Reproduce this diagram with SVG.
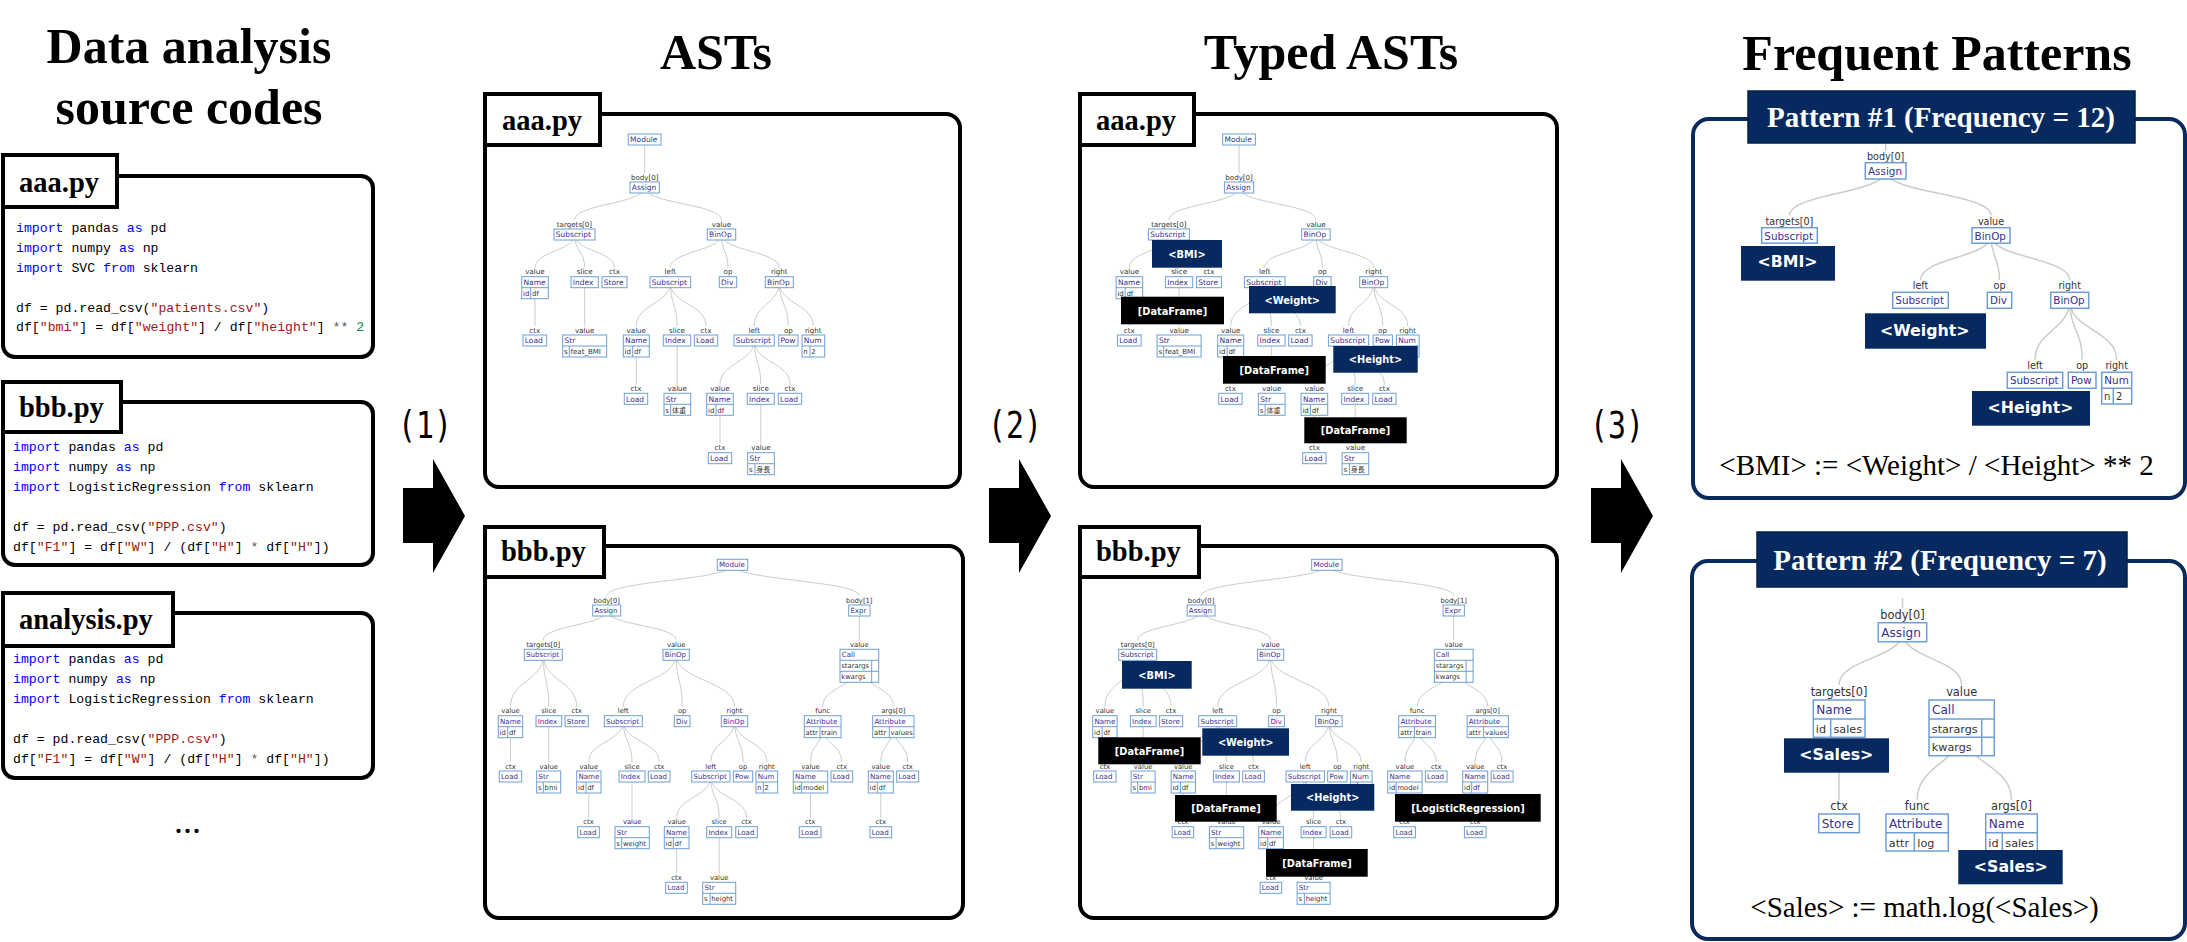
<svg xmlns="http://www.w3.org/2000/svg" width="2187" height="942" viewBox="0 0 2187 942">
<style>
.ttl{font-family:"Liberation Serif",serif;font-weight:bold;font-size:50px;text-anchor:middle;fill:#000}
.bx{fill:#fff;stroke:#000;stroke-width:4}
.tab{fill:#fff;stroke:#000;stroke-width:4}
.tabt{font-family:"Liberation Serif",serif;font-weight:bold;font-size:28.5px;fill:#000}
.code{font-family:"Liberation Mono",monospace;font-size:13.2px;fill:#000;white-space:pre}
.k{fill:#0000ff}.s{fill:#a31515}.nm{fill:#098658}.op{fill:#555}
.e{fill:none;stroke:#cccccc;stroke-width:1}
.ep{fill:none;stroke:#cccccc;stroke-width:1.5}
.n{fill:#fff;stroke:#6e9ed5;stroke-width:1}
.nl{fill:none;stroke:#6e9ed5;stroke-width:1}
.p1 .n,.p1 .nl,.p2 .n,.p2 .nl{stroke-width:1.5}
.t{font-family:"DejaVu Sans",Verdana,sans-serif;fill:#3b2f8e}
.r{font-family:"DejaVu Sans","Noto Sans CJK JP",sans-serif;fill:#333}
.l{font-family:"DejaVu Sans",sans-serif;fill:#333;text-anchor:middle}
.sa .t{font-size:7.5px}.sa .r{font-size:7px}.sa .l{font-size:7.1px}
.sb .t{font-size:7.1px}.sb .r,.sb .l{font-size:6.8px}
.p1 .t{font-size:10.4px}.p1 .r{font-size:10px}.p1 .l{font-size:9.6px}
.p2 .t{font-size:12.1px}.p2 .r{font-size:11.2px}.p2 .l{font-size:11.4px}
.nv{fill:#062a5f}.bk{fill:#000}
.tg{font-family:"DejaVu Sans",sans-serif;font-weight:bold;font-size:9.8px;fill:#fff;text-anchor:middle}
.tgp{font-family:"DejaVu Sans",sans-serif;font-weight:bold;font-size:15.8px;fill:#fff;text-anchor:middle}
.pb{fill:#fff;stroke:#0a2a5e;stroke-width:4}
.ph{fill:#062a5f;stroke:#04204a;stroke-width:1.5}
.pht{font-family:"Liberation Serif",serif;font-weight:bold;font-size:29px;fill:#fff;text-anchor:middle}
.pf{font-family:"Liberation Serif",serif;font-size:29px;fill:#000;text-anchor:middle}
.step{font-family:"DejaVu Sans Mono","Liberation Mono",monospace;font-size:37px;fill:#000;text-anchor:middle}
.arr{fill:#000}
</style>
<rect width="2187" height="942" fill="#fff"/>

<!-- Titles -->
<g id="titles">
<text class="ttl" x="189" y="63">Data analysis</text>
<text class="ttl" x="189" y="124">source codes</text>
<text class="ttl" x="716" y="69">ASTs</text>
<text class="ttl" x="1331" y="69">Typed ASTs</text>
<text class="ttl" x="1937" y="70">Frequent Patterns</text>
</g>

<!-- Source code boxes -->
<g id="code-aaa">
<rect class="bx" x="3" y="176" width="370" height="181" rx="12"/>
<rect class="tab" x="3" y="155" width="114" height="52"/>
<text class="tabt" x="19" y="192">aaa.py</text>
<text class="code" x="16" y="232"><tspan class="k">import</tspan> pandas <tspan class="k">as</tspan> pd</text>
<text class="code" x="16" y="252"><tspan class="k">import</tspan> numpy <tspan class="k">as</tspan> np</text>
<text class="code" x="16" y="272"><tspan class="k">import</tspan> SVC <tspan class="k">from</tspan> sklearn</text>
<text class="code" x="16" y="312">df = pd.read_csv(<tspan class="s">"patients.csv"</tspan>)</text>
<text class="code" x="16" y="331">df[<tspan class="s">"bmi"</tspan>] = df[<tspan class="s">"weight"</tspan>] / df[<tspan class="s">"height"</tspan>] <tspan class="op">**</tspan> <tspan class="nm">2</tspan></text>
</g>
<g id="code-bbb">
<rect class="bx" x="3" y="402" width="370" height="163" rx="12"/>
<rect class="tab" x="3" y="382" width="118" height="50"/>
<text class="tabt" x="19" y="417">bbb.py</text>
<text class="code" x="13" y="450.7"><tspan class="k">import</tspan> pandas <tspan class="k">as</tspan> pd</text>
<text class="code" x="13" y="470.7"><tspan class="k">import</tspan> numpy <tspan class="k">as</tspan> np</text>
<text class="code" x="13" y="491"><tspan class="k">import</tspan> LogisticRegression <tspan class="k">from</tspan> sklearn</text>
<text class="code" x="13" y="530.7">df = pd.read_csv(<tspan class="s">"PPP.csv"</tspan>)</text>
<text class="code" x="13" y="550.7">df[<tspan class="s">"F1"</tspan>] = df[<tspan class="s">"W"</tspan>] / (df[<tspan class="s">"H"</tspan>] <tspan class="op">*</tspan> df[<tspan class="s">"H"</tspan>])</text>
</g>
<g id="code-analysis">
<rect class="bx" x="3" y="613" width="370" height="165" rx="12"/>
<rect class="tab" x="3" y="593" width="170" height="53"/>
<text class="tabt" x="19" y="629">analysis.py</text>
<text class="code" x="13" y="662.7"><tspan class="k">import</tspan> pandas <tspan class="k">as</tspan> pd</text>
<text class="code" x="13" y="682.7"><tspan class="k">import</tspan> numpy <tspan class="k">as</tspan> np</text>
<text class="code" x="13" y="703.3"><tspan class="k">import</tspan> LogisticRegression <tspan class="k">from</tspan> sklearn</text>
<text class="code" x="13" y="743.3">df = pd.read_csv(<tspan class="s">"PPP.csv"</tspan>)</text>
<text class="code" x="13" y="763.3">df[<tspan class="s">"F1"</tspan>] = df[<tspan class="s">"W"</tspan>] / (df[<tspan class="s">"H"</tspan>] <tspan class="op">*</tspan> df[<tspan class="s">"H"</tspan>])</text>
</g>
<text id="more" x="187.5" y="833" font-family="Liberation Serif, serif" font-size="36" text-anchor="middle">...</text>

<!-- Step arrows -->
<g id="step-arrows">
<text class="step" x="425" y="438" textLength="54" lengthAdjust="spacingAndGlyphs">(1)</text>
<path class="arr" d="M403 488H433V459L465 516L433 573V543H403Z"/>
<text class="step" x="1015" y="438" textLength="54" lengthAdjust="spacingAndGlyphs">(2)</text>
<path class="arr" d="M989 488H1019V459L1051 516L1019 573V543H989Z"/>
<text class="step" x="1617" y="438" textLength="54" lengthAdjust="spacingAndGlyphs">(3)</text>
<path class="arr" d="M1591 488H1621V459L1653 516L1621 573V543H1591Z"/>
</g>

<!-- Panels -->
<g id="panels">
<rect class="bx" x="485" y="114" width="475" height="373" rx="14"/>
<rect class="tab" x="485" y="94" width="115" height="51"/>
<text class="tabt" x="502" y="129.5">aaa.py</text>
<rect class="bx" x="485" y="546" width="478" height="372" rx="14"/>
<rect class="tab" x="485" y="527" width="119" height="50"/>
<text class="tabt" x="501" y="561">bbb.py</text>
<rect class="bx" x="1080" y="114" width="477" height="373" rx="14"/>
<rect class="tab" x="1080" y="94" width="114" height="51"/>
<text class="tabt" x="1096" y="129.5">aaa.py</text>
<rect class="bx" x="1080" y="546" width="477" height="372" rx="14"/>
<rect class="tab" x="1080" y="527" width="119" height="50"/>
<text class="tabt" x="1096" y="561">bbb.py</text>
<rect class="pb" x="1693" y="119" width="492" height="379" rx="16"/>
<rect class="ph" x="1748" y="91" width="387" height="52"/>
<text class="pht" x="1941" y="127">Pattern #1 (Frequency = 12)</text>
<text class="pf" x="1936.5" y="475">&lt;BMI&gt; := &lt;Weight&gt; / &lt;Height&gt; ** 2</text>
<rect class="pb" x="1692" y="561" width="493" height="378" rx="16"/>
<rect class="ph" x="1757" y="532" width="370" height="55"/>
<text class="pht" x="1940" y="570">Pattern #2 (Frequency = 7)</text>
<text class="pf" x="1924.5" y="917">&lt;Sales&gt; := math.log(&lt;Sales&gt;)</text>
</g>

<!-- Connectors -->
<g id="connectors">
<g id="edges-ast-aaa">
<path class="e" d="M644.7 139.5V173"/>
<path class="e" d="M644.7 187.5C644.7 203.8 574.5 203.8 574.5 220"/>
<path class="e" d="M644.7 187.5C644.7 203.8 721.5 203.8 721.5 220"/>
<path class="e" d="M574.5 234.5C574.5 251.1 535 251.1 535 267.7"/>
<path class="e" d="M574.5 234.5C574.5 251.1 584.7 251.1 584.7 267.7"/>
<path class="e" d="M574.5 234.5C574.5 251.1 614.5 251.1 614.5 267.7"/>
<path class="e" d="M721.5 234.5C721.5 251.1 670.3 251.1 670.3 267.7"/>
<path class="e" d="M721.5 234.5C721.5 251.1 728 251.1 728 267.7"/>
<path class="e" d="M721.5 234.5C721.5 251.1 779.3 251.1 779.3 267.7"/>
<path class="e" d="M535 287.7V326"/>
<path class="e" d="M584.7 282.2V326"/>
<path class="e" d="M670.3 282.2C670.3 304.1 636.3 304.1 636.3 326"/>
<path class="e" d="M670.3 282.2C670.3 304.1 677 304.1 677 326"/>
<path class="e" d="M670.3 282.2C670.3 304.1 706 304.1 706 326"/>
<path class="e" d="M779.3 282.2C779.3 304.1 754.2 304.1 754.2 326"/>
<path class="e" d="M779.3 282.2C779.3 304.1 788.3 304.1 788.3 326"/>
<path class="e" d="M779.3 282.2C779.3 304.1 813.3 304.1 813.3 326"/>
<path class="e" d="M636.3 346V384.3"/>
<path class="e" d="M677.2 340.5V384.3"/>
<path class="e" d="M754.2 340.5C754.2 362.4 720 362.4 720 384.3"/>
<path class="e" d="M754.2 340.5C754.2 362.4 760.8 362.4 760.8 384.3"/>
<path class="e" d="M754.2 340.5C754.2 362.4 790 362.4 790 384.3"/>
<path class="e" d="M720 404.3V443.7"/>
<path class="e" d="M760.8 398.8V443.7"/>
</g>
<g id="edges-ast-bbb">
<path class="e" d="M732.5 564.8C732.5 580.4 606.7 580.4 606.7 596"/>
<path class="e" d="M732.5 564.8C732.5 580.4 859.3 580.4 859.3 596"/>
<path class="e" d="M606.7 610.5C606.7 625.4 543.3 625.4 543.3 640.3"/>
<path class="e" d="M606.7 610.5C606.7 625.4 676.2 625.4 676.2 640.3"/>
<path class="e" d="M859.3 610.5V640.3"/>
<path class="e" d="M543.3 654.8C543.3 680.8 510.5 680.8 510.5 706.7"/>
<path class="e" d="M543.3 654.8C543.3 680.8 548.8 680.8 548.8 706.7"/>
<path class="e" d="M543.3 654.8C543.3 680.8 576.7 680.8 576.7 706.7"/>
<path class="e" d="M676.2 654.8C676.2 680.8 623.3 680.8 623.3 706.7"/>
<path class="e" d="M676.2 654.8C676.2 680.8 682.2 680.8 682.2 706.7"/>
<path class="e" d="M676.2 654.8C676.2 680.8 734.5 680.8 734.5 706.7"/>
<path class="e" d="M859.3 665.8C859.3 686.3 822.7 686.3 822.7 706.7"/>
<path class="e" d="M859.3 665.8C859.3 686.3 893.3 686.3 893.3 706.7"/>
<path class="e" d="M510.5 726.7V762"/>
<path class="e" d="M548.8 721.2V762"/>
<path class="e" d="M623.3 721.2C623.3 741.6 588.8 741.6 588.8 762"/>
<path class="e" d="M623.3 721.2C623.3 741.6 632 741.6 632 762"/>
<path class="e" d="M623.3 721.2C623.3 741.6 659.2 741.6 659.2 762"/>
<path class="e" d="M734.5 721.2C734.5 741.6 710.8 741.6 710.8 762"/>
<path class="e" d="M734.5 721.2C734.5 741.6 743 741.6 743 762"/>
<path class="e" d="M734.5 721.2C734.5 741.6 766.8 741.6 766.8 762"/>
<path class="e" d="M822.7 726.7C822.7 744.4 810.5 744.4 810.5 762"/>
<path class="e" d="M822.7 726.7C822.7 744.4 841.8 744.4 841.8 762"/>
<path class="e" d="M893.3 726.7C893.3 744.4 880.8 744.4 880.8 762"/>
<path class="e" d="M893.3 726.7C893.3 744.4 907.7 744.4 907.7 762"/>
<path class="e" d="M588.8 782V817.7"/>
<path class="e" d="M632 776.5V817.7"/>
<path class="e" d="M710.8 776.5C710.8 797.1 676.7 797.1 676.7 817.7"/>
<path class="e" d="M710.8 776.5C710.8 797.1 719.2 797.1 719.2 817.7"/>
<path class="e" d="M710.8 776.5C710.8 797.1 746.5 797.1 746.5 817.7"/>
<path class="e" d="M810.5 782V817.7"/>
<path class="e" d="M880.8 782V817.7"/>
<path class="e" d="M676.7 837.7V873.3"/>
<path class="e" d="M719.2 832.2V873.3"/>
</g>
<g id="edges-typed-aaa" transform="translate(594.4 0)">
<path class="e" d="M644.7 139.5V173"/>
<path class="e" d="M644.7 187.5C644.7 203.8 574.5 203.8 574.5 220"/>
<path class="e" d="M644.7 187.5C644.7 203.8 721.5 203.8 721.5 220"/>
<path class="e" d="M574.5 234.5C574.5 251.1 535 251.1 535 267.7"/>
<path class="e" d="M574.5 234.5C574.5 251.1 584.7 251.1 584.7 267.7"/>
<path class="e" d="M574.5 234.5C574.5 251.1 614.5 251.1 614.5 267.7"/>
<path class="e" d="M721.5 234.5C721.5 251.1 670.3 251.1 670.3 267.7"/>
<path class="e" d="M721.5 234.5C721.5 251.1 728 251.1 728 267.7"/>
<path class="e" d="M721.5 234.5C721.5 251.1 779.3 251.1 779.3 267.7"/>
<path class="e" d="M535 287.7V326"/>
<path class="e" d="M584.7 282.2V326"/>
<path class="e" d="M670.3 282.2C670.3 304.1 636.3 304.1 636.3 326"/>
<path class="e" d="M670.3 282.2C670.3 304.1 677 304.1 677 326"/>
<path class="e" d="M670.3 282.2C670.3 304.1 706 304.1 706 326"/>
<path class="e" d="M779.3 282.2C779.3 304.1 754.2 304.1 754.2 326"/>
<path class="e" d="M779.3 282.2C779.3 304.1 788.3 304.1 788.3 326"/>
<path class="e" d="M779.3 282.2C779.3 304.1 813.3 304.1 813.3 326"/>
<path class="e" d="M636.3 346V384.3"/>
<path class="e" d="M677.2 340.5V384.3"/>
<path class="e" d="M754.2 340.5C754.2 362.4 720 362.4 720 384.3"/>
<path class="e" d="M754.2 340.5C754.2 362.4 760.8 362.4 760.8 384.3"/>
<path class="e" d="M754.2 340.5C754.2 362.4 790 362.4 790 384.3"/>
<path class="e" d="M720 404.3V443.7"/>
<path class="e" d="M760.8 398.8V443.7"/>
</g>
<g id="edges-typed-bbb" transform="translate(594.4 0)">
<path class="e" d="M732.5 564.8C732.5 580.4 606.7 580.4 606.7 596"/>
<path class="e" d="M732.5 564.8C732.5 580.4 859.3 580.4 859.3 596"/>
<path class="e" d="M606.7 610.5C606.7 625.4 543.3 625.4 543.3 640.3"/>
<path class="e" d="M606.7 610.5C606.7 625.4 676.2 625.4 676.2 640.3"/>
<path class="e" d="M859.3 610.5V640.3"/>
<path class="e" d="M543.3 654.8C543.3 680.8 510.5 680.8 510.5 706.7"/>
<path class="e" d="M543.3 654.8C543.3 680.8 548.8 680.8 548.8 706.7"/>
<path class="e" d="M543.3 654.8C543.3 680.8 576.7 680.8 576.7 706.7"/>
<path class="e" d="M676.2 654.8C676.2 680.8 623.3 680.8 623.3 706.7"/>
<path class="e" d="M676.2 654.8C676.2 680.8 682.2 680.8 682.2 706.7"/>
<path class="e" d="M676.2 654.8C676.2 680.8 734.5 680.8 734.5 706.7"/>
<path class="e" d="M859.3 665.8C859.3 686.3 822.7 686.3 822.7 706.7"/>
<path class="e" d="M859.3 665.8C859.3 686.3 893.3 686.3 893.3 706.7"/>
<path class="e" d="M510.5 726.7V762"/>
<path class="e" d="M548.8 721.2V762"/>
<path class="e" d="M623.3 721.2C623.3 741.6 588.8 741.6 588.8 762"/>
<path class="e" d="M623.3 721.2C623.3 741.6 632 741.6 632 762"/>
<path class="e" d="M623.3 721.2C623.3 741.6 659.2 741.6 659.2 762"/>
<path class="e" d="M734.5 721.2C734.5 741.6 710.8 741.6 710.8 762"/>
<path class="e" d="M734.5 721.2C734.5 741.6 743 741.6 743 762"/>
<path class="e" d="M734.5 721.2C734.5 741.6 766.8 741.6 766.8 762"/>
<path class="e" d="M822.7 726.7C822.7 744.4 810.5 744.4 810.5 762"/>
<path class="e" d="M822.7 726.7C822.7 744.4 841.8 744.4 841.8 762"/>
<path class="e" d="M893.3 726.7C893.3 744.4 880.8 744.4 880.8 762"/>
<path class="e" d="M893.3 726.7C893.3 744.4 907.7 744.4 907.7 762"/>
<path class="e" d="M588.8 782V817.7"/>
<path class="e" d="M632 776.5V817.7"/>
<path class="e" d="M710.8 776.5C710.8 797.1 676.7 797.1 676.7 817.7"/>
<path class="e" d="M710.8 776.5C710.8 797.1 719.2 797.1 719.2 817.7"/>
<path class="e" d="M710.8 776.5C710.8 797.1 746.5 797.1 746.5 817.7"/>
<path class="e" d="M810.5 782V817.7"/>
<path class="e" d="M880.8 782V817.7"/>
<path class="e" d="M676.7 837.7V873.3"/>
<path class="e" d="M719.2 832.2V873.3"/>
</g>
<g id="edges-pattern1">
<path class="ep" d="M1885.7 144V151"/>
<path class="ep" d="M1885.7 171C1885.7 193.3 1789.5 193.3 1789.5 215.5"/>
<path class="ep" d="M1885.7 171C1885.7 193.3 1991 193.3 1991 215.5"/>
<path class="ep" d="M1991 235.5C1991 257.8 1920.5 257.8 1920.5 280"/>
<path class="ep" d="M1991 235.5C1991 257.8 1999.5 257.8 1999.5 280"/>
<path class="ep" d="M1991 235.5C1991 257.8 2069.7 257.8 2069.7 280"/>
<path class="ep" d="M2069.7 300.3C2069.7 330.2 2035 330.2 2035 360"/>
<path class="ep" d="M2069.7 300.3C2069.7 330.2 2082.2 330.2 2082.2 360"/>
<path class="ep" d="M2069.7 300.3C2069.7 330.2 2116.7 330.2 2116.7 360"/>
</g>
<g id="edges-pattern2">
<path class="ep" d="M1902.5 598V608"/>
<path class="ep" d="M1902.5 632.2C1902.5 658.6 1839 658.6 1839 685"/>
<path class="ep" d="M1902.5 632.2C1902.5 658.6 1961.7 658.6 1961.7 685"/>
<path class="ep" d="M1839 718.7V800"/>
<path class="ep" d="M1961.7 727.8C1961.7 763.9 1917.2 763.9 1917.2 800"/>
<path class="ep" d="M1961.7 727.8C1961.7 763.9 2011.5 763.9 2011.5 800"/>
</g>
</g>

<!-- AST aaa nodes -->
<g id="ast-aaa" class="sa">
<g id="a-module"><rect class="n" x="628.3" y="134" width="32.7" height="11"/><text class="t" x="630.1" y="142.2">Module</text></g>
<g id="a-assign"><text class="l" x="644.7" y="179.5">body[0]</text><rect class="n" x="630" y="182" width="29.3" height="11"/><text class="t" x="631.8" y="190.2">Assign</text></g>
<g id="a-sub1"><text class="l" x="574.5" y="226.5">targets[0]</text><rect class="n" x="554" y="229" width="41" height="11"/><text class="t" x="555.8" y="237.2">Subscript</text></g>
<g id="a-bin1"><text class="l" x="721.5" y="226.5">value</text><rect class="n" x="707.3" y="229" width="28.4" height="11"/><text class="t" x="709.1" y="237.2">BinOp</text></g>
<g id="a-name1"><text class="l" x="535" y="274.2">value</text><rect class="n" x="521.7" y="276.7" width="26.6" height="22"/><path class="nl" d="M521.7 287.7H548.3M530.7 287.7V298.7"/><text class="t" x="523.5" y="284.9">Name</text><text class="r" x="523" y="295.9">id</text><text class="r" x="532" y="295.9">df</text></g>
<g id="a-idx1"><text class="l" x="584.7" y="274.2">slice</text><rect class="n" x="571" y="276.7" width="27.3" height="11"/><text class="t" x="572.8" y="284.9">Index</text></g>
<g id="a-sto1"><text class="l" x="614.5" y="274.2">ctx</text><rect class="n" x="602" y="276.7" width="25" height="11"/><text class="t" x="603.8" y="284.9">Store</text></g>
<g id="a-sub2"><text class="l" x="670.3" y="274.2">left</text><rect class="n" x="650" y="276.7" width="40.7" height="11"/><text class="t" x="651.8" y="284.9">Subscript</text></g>
<g id="a-div1"><text class="l" x="728" y="274.2">op</text><rect class="n" x="719.3" y="276.7" width="17.4" height="11"/><text class="t" x="721.1" y="284.9">Div</text></g>
<g id="a-bin2"><text class="l" x="779.3" y="274.2">right</text><rect class="n" x="765.3" y="276.7" width="28" height="11"/><text class="t" x="767.1" y="284.9">BinOp</text></g>
<g id="a-load1"><text class="l" x="534.8" y="332.5">ctx</text><rect class="n" x="523" y="335" width="23.7" height="11"/><text class="t" x="524.8" y="343.2">Load</text></g>
<g id="a-str1"><text class="l" x="584.7" y="332.5">value</text><rect class="n" x="562.7" y="335" width="44" height="22"/><path class="nl" d="M562.7 346H606.7M569.3 346V357"/><text class="t" x="564.5" y="343.2">Str</text><text class="r" x="564" y="354.2">s</text><text class="r" x="570.6" y="354.2">feat_BMI</text></g>
<g id="a-name2"><text class="l" x="636.3" y="332.5">value</text><rect class="n" x="623.3" y="335" width="26" height="22"/><path class="nl" d="M623.3 346H649.3M632.7 346V357"/><text class="t" x="625.1" y="343.2">Name</text><text class="r" x="624.6" y="354.2">id</text><text class="r" x="634" y="354.2">df</text></g>
<g id="a-idx2"><text class="l" x="677" y="332.5">slice</text><rect class="n" x="663.3" y="335" width="27.4" height="11"/><text class="t" x="665.1" y="343.2">Index</text></g>
<g id="a-load2"><text class="l" x="706" y="332.5">ctx</text><rect class="n" x="694.3" y="335" width="23.4" height="11"/><text class="t" x="696.1" y="343.2">Load</text></g>
<g id="a-sub3"><text class="l" x="754.2" y="332.5">left</text><rect class="n" x="734" y="335" width="40.3" height="11"/><text class="t" x="735.8" y="343.2">Subscript</text></g>
<g id="a-pow1"><text class="l" x="788.3" y="332.5">op</text><rect class="n" x="778.7" y="335" width="19.3" height="11"/><text class="t" x="780.5" y="343.2">Pow</text></g>
<g id="a-num1"><text class="l" x="813.3" y="332.5">right</text><rect class="n" x="802" y="335" width="22.7" height="22"/><path class="nl" d="M802 346H824.7M810 346V357"/><text class="t" x="803.8" y="343.2">Num</text><text class="r" x="803.3" y="354.2">n</text><text class="r" x="811.3" y="354.2">2</text></g>
<g id="a-load3"><text class="l" x="636" y="390.8">ctx</text><rect class="n" x="624.3" y="393.3" width="23.4" height="11"/><text class="t" x="626.1" y="401.5">Load</text></g>
<g id="a-str2"><text class="l" x="677.3" y="390.8">value</text><rect class="n" x="664" y="393.3" width="26.7" height="22"/><path class="nl" d="M664 404.3H690.7M670.7 404.3V415.3"/><text class="t" x="665.8" y="401.5">Str</text><text class="r" x="665.3" y="412.5">s</text><text class="r" x="672" y="412.5">体重</text></g>
<g id="a-name3"><text class="l" x="720" y="390.8">value</text><rect class="n" x="706.7" y="393.3" width="26.6" height="22"/><path class="nl" d="M706.7 404.3H733.3M716 404.3V415.3"/><text class="t" x="708.5" y="401.5">Name</text><text class="r" x="708" y="412.5">id</text><text class="r" x="717.3" y="412.5">df</text></g>
<g id="a-idx3"><text class="l" x="760.8" y="390.8">slice</text><rect class="n" x="747.3" y="393.3" width="27" height="11"/><text class="t" x="749.1" y="401.5">Index</text></g>
<g id="a-load4"><text class="l" x="790" y="390.8">ctx</text><rect class="n" x="778.3" y="393.3" width="23.4" height="11"/><text class="t" x="780.1" y="401.5">Load</text></g>
<g id="a-load5"><text class="l" x="720" y="450.2">ctx</text><rect class="n" x="708.3" y="452.7" width="23.4" height="11"/><text class="t" x="710.1" y="460.9">Load</text></g>
<g id="a-str3"><text class="l" x="761" y="450.2">value</text><rect class="n" x="747.7" y="452.7" width="26.6" height="22"/><path class="nl" d="M747.7 463.7H774.3M755 463.7V474.7"/><text class="t" x="749.5" y="460.9">Str</text><text class="r" x="749" y="471.9">s</text><text class="r" x="756.3" y="471.9">身長</text></g>
</g>

<!-- AST bbb nodes -->
<g id="ast-bbb" class="sb">
<g id="b-module"><rect class="n" x="717.3" y="559.3" width="30.4" height="11"/><text class="t" x="719" y="567.3">Module</text></g>
<g id="b-assign"><text class="l" x="606.7" y="602.5">body[0]</text><rect class="n" x="592.7" y="605" width="28" height="11"/><text class="t" x="594.4" y="613">Assign</text></g>
<g id="b-expr"><text class="l" x="859.3" y="602.5">body[1]</text><rect class="n" x="848.7" y="605" width="21.3" height="11"/><text class="t" x="850.4" y="613">Expr</text></g>
<g id="b-sub1"><text class="l" x="543.3" y="646.8">targets[0]</text><rect class="n" x="524.3" y="649.3" width="38" height="11"/><text class="t" x="526" y="657.3">Subscript</text></g>
<g id="b-bin1"><text class="l" x="676.2" y="646.8">value</text><rect class="n" x="663" y="649.3" width="26.3" height="11"/><text class="t" x="664.7" y="657.3">BinOp</text></g>
<g id="b-call"><text class="l" x="859.3" y="646.8">value</text><rect class="n" x="840" y="649.3" width="38.7" height="33"/><path class="nl" d="M840 660.3H878.7M840 671.3H878.7M871.7 660.3V682.3"/><text class="t" x="841.7" y="657.3">Call</text><text class="r" x="841.3" y="668.3">starargs</text><text class="r" x="841.3" y="679.3">kwargs</text></g>
<g id="b-name1"><text class="l" x="510.5" y="713.2">value</text><rect class="n" x="498.3" y="715.7" width="24.4" height="22"/><path class="nl" d="M498.3 726.7H522.7M507.7 726.7V737.7"/><text class="t" x="500" y="723.7">Name</text><text class="r" x="499.6" y="734.7">id</text><text class="r" x="509" y="734.7">df</text></g>
<g id="b-idx1"><text class="l" x="548.8" y="713.2">slice</text><rect class="n" x="536" y="715.7" width="25.7" height="11"/><text class="t" x="537.7" y="723.7">Index</text></g>
<g id="b-sto1"><text class="l" x="576.7" y="713.2">ctx</text><rect class="n" x="565" y="715.7" width="23.3" height="11"/><text class="t" x="566.7" y="723.7">Store</text></g>
<g id="b-sub2"><text class="l" x="623.3" y="713.2">left</text><rect class="n" x="604.3" y="715.7" width="38" height="11"/><text class="t" x="606" y="723.7">Subscript</text></g>
<g id="b-div1"><text class="l" x="682.2" y="713.2">op</text><rect class="n" x="674.3" y="715.7" width="15.7" height="11"/><text class="t" x="676" y="723.7">Div</text></g>
<g id="b-bin2"><text class="l" x="734.5" y="713.2">right</text><rect class="n" x="721.3" y="715.7" width="26.4" height="11"/><text class="t" x="723" y="723.7">BinOp</text></g>
<g id="b-attr1"><text class="l" x="822.7" y="713.2">func</text><rect class="n" x="804.3" y="715.7" width="36.7" height="22"/><path class="nl" d="M804.3 726.7H841M820 726.7V737.7"/><text class="t" x="806" y="723.7">Attribute</text><text class="r" x="805.6" y="734.7">attr</text><text class="r" x="821.3" y="734.7">train</text></g>
<g id="b-attr2"><text class="l" x="893.3" y="713.2">args[0]</text><rect class="n" x="872.7" y="715.7" width="41.3" height="22"/><path class="nl" d="M872.7 726.7H914M889.3 726.7V737.7"/><text class="t" x="874.4" y="723.7">Attribute</text><text class="r" x="874" y="734.7">attr</text><text class="r" x="890.6" y="734.7">values</text></g>
<g id="b-load1"><text class="l" x="510.5" y="768.5">ctx</text><rect class="n" x="499.3" y="771" width="22.4" height="11"/><text class="t" x="501" y="779">Load</text></g>
<g id="b-str1"><text class="l" x="548.7" y="768.5">value</text><rect class="n" x="536.7" y="771" width="24" height="22"/><path class="nl" d="M536.7 782H560.7M543.3 782V793"/><text class="t" x="538.4" y="779">Str</text><text class="r" x="538" y="790">s</text><text class="r" x="544.6" y="790">bmi</text></g>
<g id="b-name2"><text class="l" x="588.8" y="768.5">value</text><rect class="n" x="576.7" y="771" width="24.3" height="22"/><path class="nl" d="M576.7 782H601M586 782V793"/><text class="t" x="578.4" y="779">Name</text><text class="r" x="578" y="790">id</text><text class="r" x="587.3" y="790">df</text></g>
<g id="b-idx2"><text class="l" x="632" y="768.5">slice</text><rect class="n" x="619" y="771" width="26" height="11"/><text class="t" x="620.7" y="779">Index</text></g>
<g id="b-load2"><text class="l" x="659.2" y="768.5">ctx</text><rect class="n" x="648.3" y="771" width="21.7" height="11"/><text class="t" x="650" y="779">Load</text></g>
<g id="b-sub3"><text class="l" x="710.8" y="768.5">left</text><rect class="n" x="691.7" y="771" width="38.3" height="11"/><text class="t" x="693.4" y="779">Subscript</text></g>
<g id="b-pow1"><text class="l" x="743" y="768.5">op</text><rect class="n" x="733.3" y="771" width="19.4" height="11"/><text class="t" x="735" y="779">Pow</text></g>
<g id="b-num1"><text class="l" x="766.8" y="768.5">right</text><rect class="n" x="756" y="771" width="21.7" height="22"/><path class="nl" d="M756 782H777.7M763.3 782V793"/><text class="t" x="757.7" y="779">Num</text><text class="r" x="757.3" y="790">n</text><text class="r" x="764.6" y="790">2</text></g>
<g id="b-name3"><text class="l" x="810.5" y="768.5">value</text><rect class="n" x="793.3" y="771" width="34.4" height="22"/><path class="nl" d="M793.3 782H827.7M801.7 782V793"/><text class="t" x="795" y="779">Name</text><text class="r" x="794.6" y="790">id</text><text class="r" x="803" y="790">model</text></g>
<g id="b-load3"><text class="l" x="841.8" y="768.5">ctx</text><rect class="n" x="831" y="771" width="21.7" height="11"/><text class="t" x="832.7" y="779">Load</text></g>
<g id="b-name4"><text class="l" x="880.8" y="768.5">value</text><rect class="n" x="868.3" y="771" width="25" height="22"/><path class="nl" d="M868.3 782H893.3M877.3 782V793"/><text class="t" x="870" y="779">Name</text><text class="r" x="869.6" y="790">id</text><text class="r" x="878.6" y="790">df</text></g>
<g id="b-load4"><text class="l" x="907.7" y="768.5">ctx</text><rect class="n" x="896.7" y="771" width="22" height="11"/><text class="t" x="898.4" y="779">Load</text></g>
<g id="b-load5"><text class="l" x="588.5" y="824.2">ctx</text><rect class="n" x="577.7" y="826.7" width="21.6" height="11"/><text class="t" x="579.4" y="834.7">Load</text></g>
<g id="b-str2"><text class="l" x="632.2" y="824.2">value</text><rect class="n" x="615" y="826.7" width="34.3" height="22"/><path class="nl" d="M615 837.7H649.3M621.7 837.7V848.7"/><text class="t" x="616.7" y="834.7">Str</text><text class="r" x="616.3" y="845.7">s</text><text class="r" x="623" y="845.7">weight</text></g>
<g id="b-name5"><text class="l" x="676.7" y="824.2">value</text><rect class="n" x="664.3" y="826.7" width="24.7" height="22"/><path class="nl" d="M664.3 837.7H689M673.3 837.7V848.7"/><text class="t" x="666" y="834.7">Name</text><text class="r" x="665.6" y="845.7">id</text><text class="r" x="674.6" y="845.7">df</text></g>
<g id="b-idx3"><text class="l" x="719.2" y="824.2">slice</text><rect class="n" x="706.7" y="826.7" width="25" height="11"/><text class="t" x="708.4" y="834.7">Index</text></g>
<g id="b-load6"><text class="l" x="746.5" y="824.2">ctx</text><rect class="n" x="735.7" y="826.7" width="21.6" height="11"/><text class="t" x="737.4" y="834.7">Load</text></g>
<g id="b-load7"><text class="l" x="810.2" y="824.2">ctx</text><rect class="n" x="799.3" y="826.7" width="21.7" height="11"/><text class="t" x="801" y="834.7">Load</text></g>
<g id="b-load8"><text class="l" x="880.8" y="824.2">ctx</text><rect class="n" x="870" y="826.7" width="21.7" height="11"/><text class="t" x="871.7" y="834.7">Load</text></g>
<g id="b-load9"><text class="l" x="676.5" y="879.8">ctx</text><rect class="n" x="665.7" y="882.3" width="21.6" height="11"/><text class="t" x="667.4" y="890.3">Load</text></g>
<g id="b-str3"><text class="l" x="719.2" y="879.8">value</text><rect class="n" x="702.7" y="882.3" width="33" height="22"/><path class="nl" d="M702.7 893.3H735.7M710 893.3V904.3"/><text class="t" x="704.4" y="890.3">Str</text><text class="r" x="704" y="901.3">s</text><text class="r" x="711.3" y="901.3">height</text></g>
</g>

<!-- Typed AST aaa nodes -->
<g id="typed-aaa" class="sa" transform="translate(594.4 0)">
<g id="ta-module"><rect class="n" x="628.3" y="134" width="32.7" height="11"/><text class="t" x="630.1" y="142.2">Module</text></g>
<g id="ta-assign"><text class="l" x="644.7" y="179.5">body[0]</text><rect class="n" x="630" y="182" width="29.3" height="11"/><text class="t" x="631.8" y="190.2">Assign</text></g>
<g id="ta-sub1"><text class="l" x="574.5" y="226.5">targets[0]</text><rect class="n" x="554" y="229" width="41" height="11"/><text class="t" x="555.8" y="237.2">Subscript</text></g>
<g id="ta-bin1"><text class="l" x="721.5" y="226.5">value</text><rect class="n" x="707.3" y="229" width="28.4" height="11"/><text class="t" x="709.1" y="237.2">BinOp</text></g>
<g id="ta-name1"><text class="l" x="535" y="274.2">value</text><rect class="n" x="521.7" y="276.7" width="26.6" height="22"/><path class="nl" d="M521.7 287.7H548.3M530.7 287.7V298.7"/><text class="t" x="523.5" y="284.9">Name</text><text class="r" x="523" y="295.9">id</text><text class="r" x="532" y="295.9">df</text></g>
<g id="ta-idx1"><text class="l" x="584.7" y="274.2">slice</text><rect class="n" x="571" y="276.7" width="27.3" height="11"/><text class="t" x="572.8" y="284.9">Index</text></g>
<g id="ta-sto1"><text class="l" x="614.5" y="274.2">ctx</text><rect class="n" x="602" y="276.7" width="25" height="11"/><text class="t" x="603.8" y="284.9">Store</text></g>
<g id="ta-sub2"><text class="l" x="670.3" y="274.2">left</text><rect class="n" x="650" y="276.7" width="40.7" height="11"/><text class="t" x="651.8" y="284.9">Subscript</text></g>
<g id="ta-div1"><text class="l" x="728" y="274.2">op</text><rect class="n" x="719.3" y="276.7" width="17.4" height="11"/><text class="t" x="721.1" y="284.9">Div</text></g>
<g id="ta-bin2"><text class="l" x="779.3" y="274.2">right</text><rect class="n" x="765.3" y="276.7" width="28" height="11"/><text class="t" x="767.1" y="284.9">BinOp</text></g>
<g id="ta-load1"><text class="l" x="534.8" y="332.5">ctx</text><rect class="n" x="523" y="335" width="23.7" height="11"/><text class="t" x="524.8" y="343.2">Load</text></g>
<g id="ta-str1"><text class="l" x="584.7" y="332.5">value</text><rect class="n" x="562.7" y="335" width="44" height="22"/><path class="nl" d="M562.7 346H606.7M569.3 346V357"/><text class="t" x="564.5" y="343.2">Str</text><text class="r" x="564" y="354.2">s</text><text class="r" x="570.6" y="354.2">feat_BMI</text></g>
<g id="ta-name2"><text class="l" x="636.3" y="332.5">value</text><rect class="n" x="623.3" y="335" width="26" height="22"/><path class="nl" d="M623.3 346H649.3M632.7 346V357"/><text class="t" x="625.1" y="343.2">Name</text><text class="r" x="624.6" y="354.2">id</text><text class="r" x="634" y="354.2">df</text></g>
<g id="ta-idx2"><text class="l" x="677" y="332.5">slice</text><rect class="n" x="663.3" y="335" width="27.4" height="11"/><text class="t" x="665.1" y="343.2">Index</text></g>
<g id="ta-load2"><text class="l" x="706" y="332.5">ctx</text><rect class="n" x="694.3" y="335" width="23.4" height="11"/><text class="t" x="696.1" y="343.2">Load</text></g>
<g id="ta-sub3"><text class="l" x="754.2" y="332.5">left</text><rect class="n" x="734" y="335" width="40.3" height="11"/><text class="t" x="735.8" y="343.2">Subscript</text></g>
<g id="ta-pow1"><text class="l" x="788.3" y="332.5">op</text><rect class="n" x="778.7" y="335" width="19.3" height="11"/><text class="t" x="780.5" y="343.2">Pow</text></g>
<g id="ta-num1"><text class="l" x="813.3" y="332.5">right</text><rect class="n" x="802" y="335" width="22.7" height="22"/><path class="nl" d="M802 346H824.7M810 346V357"/><text class="t" x="803.8" y="343.2">Num</text><text class="r" x="803.3" y="354.2">n</text><text class="r" x="811.3" y="354.2">2</text></g>
<g id="ta-load3"><text class="l" x="636" y="390.8">ctx</text><rect class="n" x="624.3" y="393.3" width="23.4" height="11"/><text class="t" x="626.1" y="401.5">Load</text></g>
<g id="ta-str2"><text class="l" x="677.3" y="390.8">value</text><rect class="n" x="664" y="393.3" width="26.7" height="22"/><path class="nl" d="M664 404.3H690.7M670.7 404.3V415.3"/><text class="t" x="665.8" y="401.5">Str</text><text class="r" x="665.3" y="412.5">s</text><text class="r" x="672" y="412.5">体重</text></g>
<g id="ta-name3"><text class="l" x="720" y="390.8">value</text><rect class="n" x="706.7" y="393.3" width="26.6" height="22"/><path class="nl" d="M706.7 404.3H733.3M716 404.3V415.3"/><text class="t" x="708.5" y="401.5">Name</text><text class="r" x="708" y="412.5">id</text><text class="r" x="717.3" y="412.5">df</text></g>
<g id="ta-idx3"><text class="l" x="760.8" y="390.8">slice</text><rect class="n" x="747.3" y="393.3" width="27" height="11"/><text class="t" x="749.1" y="401.5">Index</text></g>
<g id="ta-load4"><text class="l" x="790" y="390.8">ctx</text><rect class="n" x="778.3" y="393.3" width="23.4" height="11"/><text class="t" x="780.1" y="401.5">Load</text></g>
<g id="ta-load5"><text class="l" x="720" y="450.2">ctx</text><rect class="n" x="708.3" y="452.7" width="23.4" height="11"/><text class="t" x="710.1" y="460.9">Load</text></g>
<g id="ta-str3"><text class="l" x="761" y="450.2">value</text><rect class="n" x="747.7" y="452.7" width="26.6" height="22"/><path class="nl" d="M747.7 463.7H774.3M755 463.7V474.7"/><text class="t" x="749.5" y="460.9">Str</text><text class="r" x="749" y="471.9">s</text><text class="r" x="756.3" y="471.9">身長</text></g>
</g>

<!-- Typed AST bbb nodes -->
<g id="typed-bbb" class="sb" transform="translate(594.4 0)">
<g id="tb-module"><rect class="n" x="717.3" y="559.3" width="30.4" height="11"/><text class="t" x="719" y="567.3">Module</text></g>
<g id="tb-assign"><text class="l" x="606.7" y="602.5">body[0]</text><rect class="n" x="592.7" y="605" width="28" height="11"/><text class="t" x="594.4" y="613">Assign</text></g>
<g id="tb-expr"><text class="l" x="859.3" y="602.5">body[1]</text><rect class="n" x="848.7" y="605" width="21.3" height="11"/><text class="t" x="850.4" y="613">Expr</text></g>
<g id="tb-sub1"><text class="l" x="543.3" y="646.8">targets[0]</text><rect class="n" x="524.3" y="649.3" width="38" height="11"/><text class="t" x="526" y="657.3">Subscript</text></g>
<g id="tb-bin1"><text class="l" x="676.2" y="646.8">value</text><rect class="n" x="663" y="649.3" width="26.3" height="11"/><text class="t" x="664.7" y="657.3">BinOp</text></g>
<g id="tb-call"><text class="l" x="859.3" y="646.8">value</text><rect class="n" x="840" y="649.3" width="38.7" height="33"/><path class="nl" d="M840 660.3H878.7M840 671.3H878.7M871.7 660.3V682.3"/><text class="t" x="841.7" y="657.3">Call</text><text class="r" x="841.3" y="668.3">starargs</text><text class="r" x="841.3" y="679.3">kwargs</text></g>
<g id="tb-name1"><text class="l" x="510.5" y="713.2">value</text><rect class="n" x="498.3" y="715.7" width="24.4" height="22"/><path class="nl" d="M498.3 726.7H522.7M507.7 726.7V737.7"/><text class="t" x="500" y="723.7">Name</text><text class="r" x="499.6" y="734.7">id</text><text class="r" x="509" y="734.7">df</text></g>
<g id="tb-idx1"><text class="l" x="548.8" y="713.2">slice</text><rect class="n" x="536" y="715.7" width="25.7" height="11"/><text class="t" x="537.7" y="723.7">Index</text></g>
<g id="tb-sto1"><text class="l" x="576.7" y="713.2">ctx</text><rect class="n" x="565" y="715.7" width="23.3" height="11"/><text class="t" x="566.7" y="723.7">Store</text></g>
<g id="tb-sub2"><text class="l" x="623.3" y="713.2">left</text><rect class="n" x="604.3" y="715.7" width="38" height="11"/><text class="t" x="606" y="723.7">Subscript</text></g>
<g id="tb-div1"><text class="l" x="682.2" y="713.2">op</text><rect class="n" x="674.3" y="715.7" width="15.7" height="11"/><text class="t" x="676" y="723.7">Div</text></g>
<g id="tb-bin2"><text class="l" x="734.5" y="713.2">right</text><rect class="n" x="721.3" y="715.7" width="26.4" height="11"/><text class="t" x="723" y="723.7">BinOp</text></g>
<g id="tb-attr1"><text class="l" x="822.7" y="713.2">func</text><rect class="n" x="804.3" y="715.7" width="36.7" height="22"/><path class="nl" d="M804.3 726.7H841M820 726.7V737.7"/><text class="t" x="806" y="723.7">Attribute</text><text class="r" x="805.6" y="734.7">attr</text><text class="r" x="821.3" y="734.7">train</text></g>
<g id="tb-attr2"><text class="l" x="893.3" y="713.2">args[0]</text><rect class="n" x="872.7" y="715.7" width="41.3" height="22"/><path class="nl" d="M872.7 726.7H914M889.3 726.7V737.7"/><text class="t" x="874.4" y="723.7">Attribute</text><text class="r" x="874" y="734.7">attr</text><text class="r" x="890.6" y="734.7">values</text></g>
<g id="tb-load1"><text class="l" x="510.5" y="768.5">ctx</text><rect class="n" x="499.3" y="771" width="22.4" height="11"/><text class="t" x="501" y="779">Load</text></g>
<g id="tb-str1"><text class="l" x="548.7" y="768.5">value</text><rect class="n" x="536.7" y="771" width="24" height="22"/><path class="nl" d="M536.7 782H560.7M543.3 782V793"/><text class="t" x="538.4" y="779">Str</text><text class="r" x="538" y="790">s</text><text class="r" x="544.6" y="790">bmi</text></g>
<g id="tb-name2"><text class="l" x="588.8" y="768.5">value</text><rect class="n" x="576.7" y="771" width="24.3" height="22"/><path class="nl" d="M576.7 782H601M586 782V793"/><text class="t" x="578.4" y="779">Name</text><text class="r" x="578" y="790">id</text><text class="r" x="587.3" y="790">df</text></g>
<g id="tb-idx2"><text class="l" x="632" y="768.5">slice</text><rect class="n" x="619" y="771" width="26" height="11"/><text class="t" x="620.7" y="779">Index</text></g>
<g id="tb-load2"><text class="l" x="659.2" y="768.5">ctx</text><rect class="n" x="648.3" y="771" width="21.7" height="11"/><text class="t" x="650" y="779">Load</text></g>
<g id="tb-sub3"><text class="l" x="710.8" y="768.5">left</text><rect class="n" x="691.7" y="771" width="38.3" height="11"/><text class="t" x="693.4" y="779">Subscript</text></g>
<g id="tb-pow1"><text class="l" x="743" y="768.5">op</text><rect class="n" x="733.3" y="771" width="19.4" height="11"/><text class="t" x="735" y="779">Pow</text></g>
<g id="tb-num1"><text class="l" x="766.8" y="768.5">right</text><rect class="n" x="756" y="771" width="21.7" height="22"/><path class="nl" d="M756 782H777.7M763.3 782V793"/><text class="t" x="757.7" y="779">Num</text><text class="r" x="757.3" y="790">n</text><text class="r" x="764.6" y="790">2</text></g>
<g id="tb-name3"><text class="l" x="810.5" y="768.5">value</text><rect class="n" x="793.3" y="771" width="34.4" height="22"/><path class="nl" d="M793.3 782H827.7M801.7 782V793"/><text class="t" x="795" y="779">Name</text><text class="r" x="794.6" y="790">id</text><text class="r" x="803" y="790">model</text></g>
<g id="tb-load3"><text class="l" x="841.8" y="768.5">ctx</text><rect class="n" x="831" y="771" width="21.7" height="11"/><text class="t" x="832.7" y="779">Load</text></g>
<g id="tb-name4"><text class="l" x="880.8" y="768.5">value</text><rect class="n" x="868.3" y="771" width="25" height="22"/><path class="nl" d="M868.3 782H893.3M877.3 782V793"/><text class="t" x="870" y="779">Name</text><text class="r" x="869.6" y="790">id</text><text class="r" x="878.6" y="790">df</text></g>
<g id="tb-load4"><text class="l" x="907.7" y="768.5">ctx</text><rect class="n" x="896.7" y="771" width="22" height="11"/><text class="t" x="898.4" y="779">Load</text></g>
<g id="tb-load5"><text class="l" x="588.5" y="824.2">ctx</text><rect class="n" x="577.7" y="826.7" width="21.6" height="11"/><text class="t" x="579.4" y="834.7">Load</text></g>
<g id="tb-str2"><text class="l" x="632.2" y="824.2">value</text><rect class="n" x="615" y="826.7" width="34.3" height="22"/><path class="nl" d="M615 837.7H649.3M621.7 837.7V848.7"/><text class="t" x="616.7" y="834.7">Str</text><text class="r" x="616.3" y="845.7">s</text><text class="r" x="623" y="845.7">weight</text></g>
<g id="tb-name5"><text class="l" x="676.7" y="824.2">value</text><rect class="n" x="664.3" y="826.7" width="24.7" height="22"/><path class="nl" d="M664.3 837.7H689M673.3 837.7V848.7"/><text class="t" x="666" y="834.7">Name</text><text class="r" x="665.6" y="845.7">id</text><text class="r" x="674.6" y="845.7">df</text></g>
<g id="tb-idx3"><text class="l" x="719.2" y="824.2">slice</text><rect class="n" x="706.7" y="826.7" width="25" height="11"/><text class="t" x="708.4" y="834.7">Index</text></g>
<g id="tb-load6"><text class="l" x="746.5" y="824.2">ctx</text><rect class="n" x="735.7" y="826.7" width="21.6" height="11"/><text class="t" x="737.4" y="834.7">Load</text></g>
<g id="tb-load7"><text class="l" x="810.2" y="824.2">ctx</text><rect class="n" x="799.3" y="826.7" width="21.7" height="11"/><text class="t" x="801" y="834.7">Load</text></g>
<g id="tb-load8"><text class="l" x="880.8" y="824.2">ctx</text><rect class="n" x="870" y="826.7" width="21.7" height="11"/><text class="t" x="871.7" y="834.7">Load</text></g>
<g id="tb-load9"><text class="l" x="676.5" y="879.8">ctx</text><rect class="n" x="665.7" y="882.3" width="21.6" height="11"/><text class="t" x="667.4" y="890.3">Load</text></g>
<g id="tb-str3"><text class="l" x="719.2" y="879.8">value</text><rect class="n" x="702.7" y="882.3" width="33" height="22"/><path class="nl" d="M702.7 893.3H735.7M710 893.3V904.3"/><text class="t" x="704.4" y="890.3">Str</text><text class="r" x="704" y="901.3">s</text><text class="r" x="711.3" y="901.3">height</text></g>
</g>

<!-- Type tags -->
<g id="tags-typed-aaa">
<g id="ta-tag-bmi"><rect class="nv" x="1152" y="240" width="70" height="27.7"/><text class="tg" x="1187" y="257.5">&lt;BMI&gt;</text></g>
<g id="ta-tag-df1"><rect class="bk" x="1121" y="296.7" width="103" height="27.6"/><text class="tg" x="1172.5" y="314.5">[DataFrame]</text></g>
<g id="ta-tag-weight"><rect class="nv" x="1249" y="286" width="86.7" height="27.3"/><text class="tg" x="1292.3" y="303.5">&lt;Weight&gt;</text></g>
<g id="ta-tag-df2"><rect class="bk" x="1223" y="356" width="102.7" height="27.7"/><text class="tg" x="1274.3" y="373.5">[DataFrame]</text></g>
<g id="ta-tag-height"><rect class="nv" x="1333.3" y="346" width="84.4" height="26.7"/><text class="tg" x="1375.5" y="363">&lt;Height&gt;</text></g>
<g id="ta-tag-df3"><rect class="bk" x="1304.3" y="417.3" width="102.4" height="26"/><text class="tg" x="1355.5" y="433.5">[DataFrame]</text></g>
</g>
<g id="tags-typed-bbb">
<g id="tb-tag-bmi"><rect class="nv" x="1122" y="661" width="69.7" height="27.7"/><text class="tg" x="1157" y="678.5">&lt;BMI&gt;</text></g>
<g id="tb-tag-df1"><rect class="bk" x="1098.3" y="737.3" width="102.4" height="27"/><text class="tg" x="1149.5" y="754.5">[DataFrame]</text></g>
<g id="tb-tag-weight"><rect class="nv" x="1202.3" y="728.3" width="86.7" height="27.4"/><text class="tg" x="1245.7" y="745.5">&lt;Weight&gt;</text></g>
<g id="tb-tag-df2"><rect class="bk" x="1175" y="795" width="101.7" height="26.7"/><text class="tg" x="1226" y="812">[DataFrame]</text></g>
<g id="tb-tag-height"><rect class="nv" x="1291" y="784" width="83.3" height="26.7"/><text class="tg" x="1332.7" y="801">&lt;Height&gt;</text></g>
<g id="tb-tag-lr"><rect class="bk" x="1395" y="794" width="145.7" height="27.7"/><text class="tg" x="1468" y="811.5">[LogisticRegression]</text></g>
<g id="tb-tag-df3"><rect class="bk" x="1266" y="849" width="101.7" height="27.7"/><text class="tg" x="1317" y="866.5">[DataFrame]</text></g>
</g>

<!-- Pattern 1 -->
<g id="pattern1" class="p1">
<g id="p1-assign"><text class="l" x="1885.7" y="159.5">body[0]</text><rect class="n" x="1865.3" y="162.7" width="40.7" height="16.3"/><text class="t" x="1868" y="175">Assign</text></g>
<g id="p1-sub1"><text class="l" x="1789.5" y="224.5">targets[0]</text><rect class="n" x="1761.7" y="227.7" width="55.6" height="15.5"/><text class="t" x="1764.3" y="239.5">Subscript</text></g>
<g id="p1-bin1"><text class="l" x="1991" y="224.5">value</text><rect class="n" x="1972" y="227.7" width="38" height="15.5"/><text class="t" x="1974.6" y="239.5">BinOp</text></g>
<g id="p1-sub2"><text class="l" x="1920.5" y="289">left</text><rect class="n" x="1892.7" y="292.3" width="55.6" height="16"/><text class="t" x="1895.3" y="304.3">Subscript</text></g>
<g id="p1-div"><text class="l" x="1999.5" y="289">op</text><rect class="n" x="1987.3" y="292.3" width="24.4" height="16"/><text class="t" x="1989.9" y="304.3">Div</text></g>
<g id="p1-bin2"><text class="l" x="2069.7" y="289">right</text><rect class="n" x="2050.7" y="292.3" width="38" height="16"/><text class="t" x="2053.3" y="304.3">BinOp</text></g>
<g id="p1-sub3"><text class="l" x="2035" y="369">left</text><rect class="n" x="2007.3" y="372.3" width="55.4" height="16"/><text class="t" x="2009.9" y="384.3">Subscript</text></g>
<g id="p1-pow"><text class="l" x="2082.2" y="369">op</text><rect class="n" x="2068.3" y="372.3" width="27.7" height="16"/><text class="t" x="2070.9" y="384.3">Pow</text></g>
<g id="p1-num"><text class="l" x="2116.7" y="369">right</text><rect class="n" x="2101.7" y="372.3" width="30" height="31.7"/><path class="nl" d="M2101.7 388.3H2131.7M2113.3 388.3V404"/><text class="t" x="2104.3" y="384.3">Num</text><text class="r" x="2104" y="400">n</text><text class="r" x="2116" y="400">2</text></g>
<g id="p1-tag-bmi"><rect class="nv" x="1741" y="246" width="94" height="34.7"/><text class="tgp" x="1787.5" y="267">&lt;BMI&gt;</text></g>
<g id="p1-tag-weight"><rect class="nv" x="1865" y="313.3" width="121" height="35.4"/><text class="tgp" x="1924.7" y="335.5">&lt;Weight&gt;</text></g>
<g id="p1-tag-height"><rect class="nv" x="1972" y="391" width="118" height="34.7"/><text class="tgp" x="2030.5" y="412.5">&lt;Height&gt;</text></g>
</g>

<!-- Pattern 2 -->
<g id="pattern2" class="p2">
<g id="p2-assign"><text class="l" x="1902.5" y="618.5">body[0]</text><rect class="n" x="1878.3" y="622.7" width="48.4" height="19"/><text class="t" x="1881.3" y="636.8">Assign</text></g>
<g id="p2-name1"><text class="l" x="1839" y="696">targets[0]</text><rect class="n" x="1813.3" y="700" width="51.7" height="37.3"/><path class="nl" d="M1813.3 719H1865M1830.7 719V737.3"/><text class="t" x="1816.3" y="714">Name</text><text class="r" x="1815.8" y="733">id</text><text class="r" x="1833.5" y="733">sales</text></g>
<g id="p2-call"><text class="l" x="1961.7" y="696">value</text><rect class="n" x="1929" y="700" width="65.3" height="55.7"/><path class="nl" d="M1929 719H1994.3M1929 737.3H1994.3M1981.7 719V755.7"/><text class="t" x="1932" y="714">Call</text><text class="r" x="1931.8" y="733">starargs</text><text class="r" x="1931.8" y="751.3">kwargs</text></g>
<g id="p2-store"><text class="l" x="1839" y="810">ctx</text><rect class="n" x="1818.7" y="814" width="40.6" height="18.7"/><text class="t" x="1821.7" y="828">Store</text></g>
<g id="p2-attr"><text class="l" x="1917.2" y="810">func</text><rect class="n" x="1886" y="814" width="62.3" height="37"/><path class="nl" d="M1886 832.7H1948.3M1914.3 832.7V851"/><text class="t" x="1889" y="828">Attribute</text><text class="r" x="1888.8" y="846.5">attr</text><text class="r" x="1917.3" y="846.5">log</text></g>
<g id="p2-name2"><text class="l" x="2011.5" y="810">args[0]</text><rect class="n" x="1985.7" y="814" width="51.6" height="37"/><path class="nl" d="M1985.7 832.7H2037.3M2002.3 832.7V851"/><text class="t" x="1988.7" y="828">Name</text><text class="r" x="1988.3" y="846.5">id</text><text class="r" x="2005.3" y="846.5">sales</text></g>
<g id="p2-tag-sales1"><rect class="nv" x="1784" y="738.3" width="105" height="34.4"/><text class="tgp" x="1836.3" y="760">&lt;Sales&gt;</text></g>
<g id="p2-tag-sales2"><rect class="nv" x="1958.3" y="850" width="104.4" height="34.3"/><text class="tgp" x="2010.8" y="871.5">&lt;Sales&gt;</text></g>
</g>
</svg>
